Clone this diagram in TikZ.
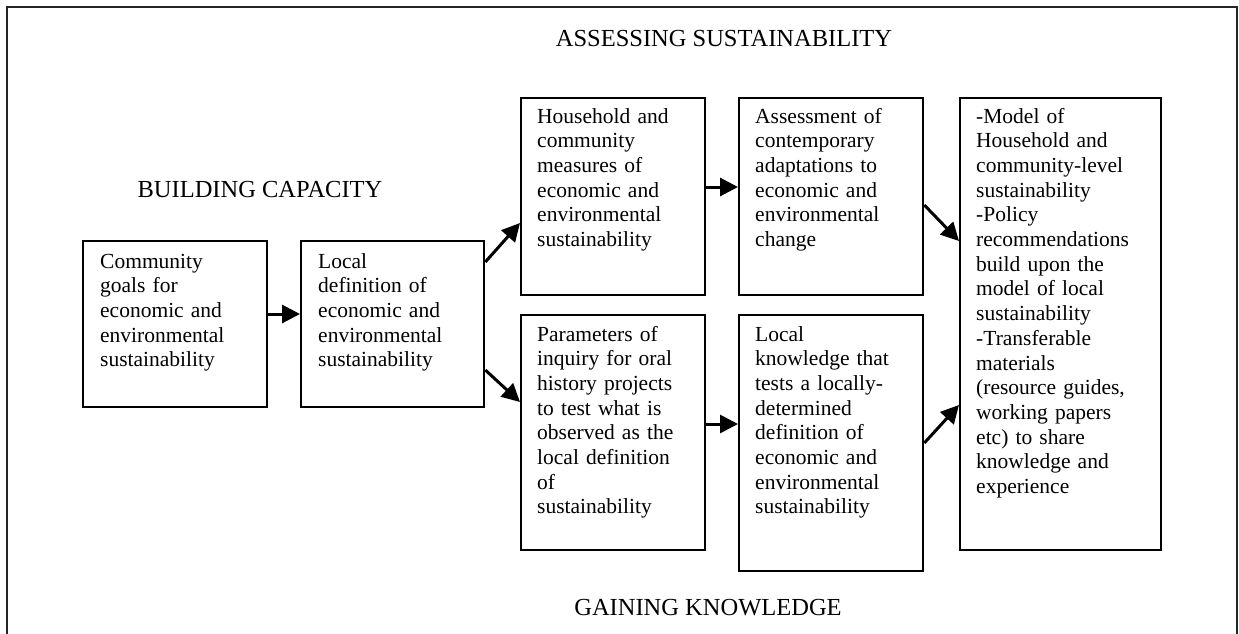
\documentclass[tikz,border=0pt]{standalone}
\usepackage{fontspec}
\setmainfont{Liberation Serif}
\usetikzlibrary{arrows.meta,calc}

\tikzset{
  stagebox/.style={draw=black, line width=2.3pt, rectangle, inner sep=0pt, anchor=north west},
  boxtext/.style={anchor=base west, inner sep=0pt, align=left, text width=#1,
    font=\fontsize{21.5}{24.7}\selectfont},
  boxtext/.default=175pt,
  heading/.style={anchor=base, inner sep=0pt, font=\fontsize{24.5}{28}\selectfont},
  flow/.style={line width=3pt, -{Triangle[length=18pt,width=18pt]}},
  frame/.style={line width=1.4pt, draw=black!85}
}

\begin{document}
\begin{tikzpicture}[x=1pt, y=-1pt]
  \useasboundingbox (0,0) rectangle (1239,634);

  % open outer frame
  \draw[frame] (7,634) -- (7,7) -- (1237,7) -- (1237,634);

  % section headings
  \node[heading] (hassess) at (724,47) {ASSESSING SUSTAINABILITY};
  \node[heading] (hbuild)  at (260,197) {BUILDING CAPACITY};
  \node[heading] (hgain)   at (708,615) {GAINING KNOWLEDGE};

  % stage boxes
  \node[stagebox, minimum width=184pt, minimum height=166pt] (b1) at (82,240) {};
  \node[stagebox, minimum width=183pt, minimum height=166pt] (b2) at (300,240) {};
  \node[stagebox, minimum width=184pt, minimum height=197pt] (b3) at (520,97) {};
  \node[stagebox, minimum width=184pt, minimum height=197pt] (b4) at (738,97) {};
  \node[stagebox, minimum width=184pt, minimum height=235pt] (b5) at (520,314) {};
  \node[stagebox, minimum width=184pt, minimum height=256pt] (b6) at (738,314) {};
  \node[stagebox, minimum width=201pt, minimum height=452pt] (b7) at (959,97) {};

  % box contents
  \node[boxtext] (t1) at ($(b1.north west)+(18,28)$)
    {Community\\goals for\\economic and\\environmental\\sustainability};
  \node[boxtext] (t2) at ($(b2.north west)+(18,28)$)
    {Local\\definition of\\economic and\\environmental\\sustainability};
  \node[boxtext] (t3) at ($(b3.north west)+(17,26)$)
    {Household and\\community\\measures of\\economic and\\environmental\\sustainability};
  \node[boxtext] (t4) at ($(b4.north west)+(17,26)$)
    {Assessment of\\contemporary\\adaptations to\\economic and\\environmental\\change};
  \node[boxtext] (t5) at ($(b5.north west)+(17,27)$)
    {Parameters of\\inquiry for oral\\history projects\\to test what is\\observed as the\\local definition\\of\\sustainability};
  \node[boxtext] (t6) at ($(b6.north west)+(17,27)$)
    {Local\\knowledge that\\tests a locally-\\determined\\definition of\\economic and\\environmental\\sustainability};
  \node[boxtext=190pt] (t7) at ($(b7.north west)+(17,26)$)
    {-Model of\\Household and\\community-level\\sustainability\\-Policy\\recommendations\\build upon the\\model of local\\sustainability\\-Transferable\\materials\\(resource guides,\\working papers\\etc) to share\\knowledge and\\experience};

  % flow arrows
  \draw[flow] ($(b1.north east)+(0,74)$)  -- ($(b2.north west)+(0,74)$);
  \draw[flow] ($(b2.north east)+(0,22)$)  -- ($(b3.north west)+(0,126)$);
  \draw[flow] ($(b2.north east)+(0,130)$) -- ($(b5.north west)+(0,88)$);
  \draw[flow] ($(b3.north east)+(0,90)$)  -- ($(b4.north west)+(0,90)$);
  \draw[flow] ($(b5.north east)+(0,110)$) -- ($(b6.north west)+(0,110)$);
  \draw[flow] ($(b4.north east)+(0,108)$) -- ($(b7.north west)+(0,144)$);
  \draw[flow] ($(b6.north east)+(0,129)$) -- ($(b7.north west)+(0,308)$);
\end{tikzpicture}
\end{document}
